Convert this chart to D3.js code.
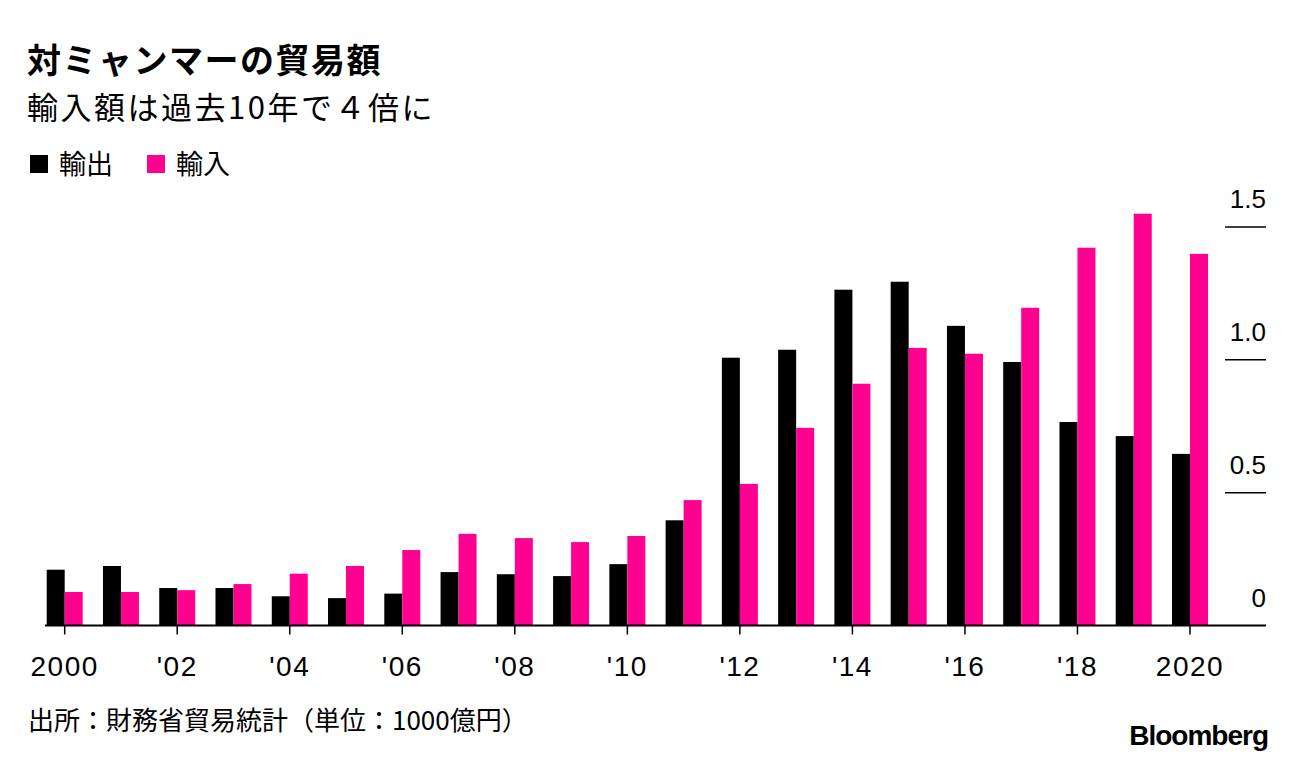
<!DOCTYPE html>
<html>
<head>
<meta charset="utf-8">
<script src="https://cdn.jsdelivr.net/npm/d3@7"></script>
<style>
  body { margin: 0; background: #fff; }
  text { font-family: "Liberation Sans", "Noto Sans CJK JP", sans-serif; fill: #000; }
  .jp { font-family: "Noto Sans CJK JP", sans-serif; }
</style>
</head>
<body>
<div id="chart"></div>
<script>
const years = d3.range(2000, 2021);
const exports = [0.21, 0.224, 0.141, 0.141, 0.11, 0.103, 0.12, 0.201, 0.193, 0.186, 0.231,
                 0.396, 1.008, 1.038, 1.264, 1.294, 1.128, 0.992, 0.766, 0.713, 0.646];
const imports = [0.126, 0.126, 0.133, 0.156, 0.195, 0.224, 0.284, 0.345, 0.329, 0.314, 0.337,
                 0.472, 0.533, 0.744, 0.91, 1.045, 1.023, 1.196, 1.422, 1.55, 1.399];
const yTicks = [0, 0.5, 1.0, 1.5];
const xTicks = [2000, 2002, 2004, 2006, 2008, 2010, 2012, 2014, 2016, 2018, 2020];
const xLabels = ["2000", "'02", "'04", "'06", "'08", "'10", "'12", "'14", "'16", "'18", "2020"];

const width = 1296, height = 760;
const black = "#000000", pink = "#ff0090";
const barW = 18;

const svg = d3.select("#chart").append("svg")
    .attr("width", width).attr("height", height);

const x = d3.scaleLinear().domain([2000, 2020]).range([64.7, 1190]);
const y = d3.scaleLinear().domain([0, 1.5]).range([625.5, 227]);

// title block
svg.append("text").attr("class", "jp")
    .attr("x", 27).attr("y", 73)
    .attr("font-size", 34).attr("font-weight", "bold")
    .attr("letter-spacing", 1.5)
    .text("対ミャンマーの貿易額");
svg.append("text").attr("class", "jp")
    .attr("x", 27).attr("y", 119)
    .attr("font-size", 31)
    .attr("letter-spacing", 2.5)
    .text("輸入額は過去10年で４倍に");

// legend
const legend = [{name: "輸出", colour: black, x: 30}, {name: "輸入", colour: pink, x: 147}];
legend.forEach(function(d) {
    svg.append("rect").attr("x", d.x).attr("y", 155)
        .attr("width", 18).attr("height", 18).attr("fill", d.colour);
    svg.append("text").attr("class", "jp")
        .attr("x", d.x + 29).attr("y", 174)
        .attr("font-size", 27).text(d.name);
});

// y gridline stubs + labels on the right
yTicks.forEach(function(t) {
    if (t > 0) {
        svg.append("line")
            .attr("x1", 1225).attr("x2", 1266)
            .attr("y1", y(t)).attr("y2", y(t))
            .attr("stroke", "#000").attr("stroke-width", 1.5);
    }
    svg.append("text")
        .attr("x", 1266).attr("y", y(t) - 19)
        .attr("text-anchor", "end").attr("font-size", 26)
        .text(t === 0 ? "0" : t.toFixed(1));
});

// bars
svg.append("g").selectAll("rect")
    .data(years)
    .enter().append("rect")
    .attr("x", function(d) { return x(d) - barW; })
    .attr("y", function(d, i) { return y(exports[i]); })
    .attr("width", barW)
    .attr("height", function(d, i) { return y(0) - y(exports[i]); })
    .attr("fill", black);

svg.append("g").selectAll("rect")
    .data(years)
    .enter().append("rect")
    .attr("x", function(d) { return x(d); })
    .attr("y", function(d, i) { return y(imports[i]); })
    .attr("width", barW)
    .attr("height", function(d, i) { return y(0) - y(imports[i]); })
    .attr("fill", pink);

// baseline
svg.append("line")
    .attr("x1", 45).attr("x2", 1266)
    .attr("y1", y(0)).attr("y2", y(0))
    .attr("stroke", "#000").attr("stroke-width", 2);

// x ticks
xTicks.forEach(function(t, i) {
    svg.append("line")
        .attr("x1", x(t)).attr("x2", x(t))
        .attr("y1", y(0)).attr("y2", y(0) + 9)
        .attr("stroke", "#000").attr("stroke-width", 1.5);
    svg.append("text")
        .attr("x", x(t)).attr("y", 676)
        .attr("text-anchor", "middle").attr("font-size", 28)
        .attr("letter-spacing", 1.5)
        .text(xLabels[i]);
});

// footer
svg.append("text").attr("class", "jp")
    .attr("x", 28).attr("y", 730)
    .attr("font-size", 26)
    .text("出所：財務省貿易統計（単位：1000億円）");
svg.append("text")
    .attr("x", 1268).attr("y", 745)
    .attr("text-anchor", "end")
    .attr("font-size", 28).attr("font-weight", "bold")
    .attr("letter-spacing", -1)
    .text("Bloomberg");
</script>
</body>
</html>
